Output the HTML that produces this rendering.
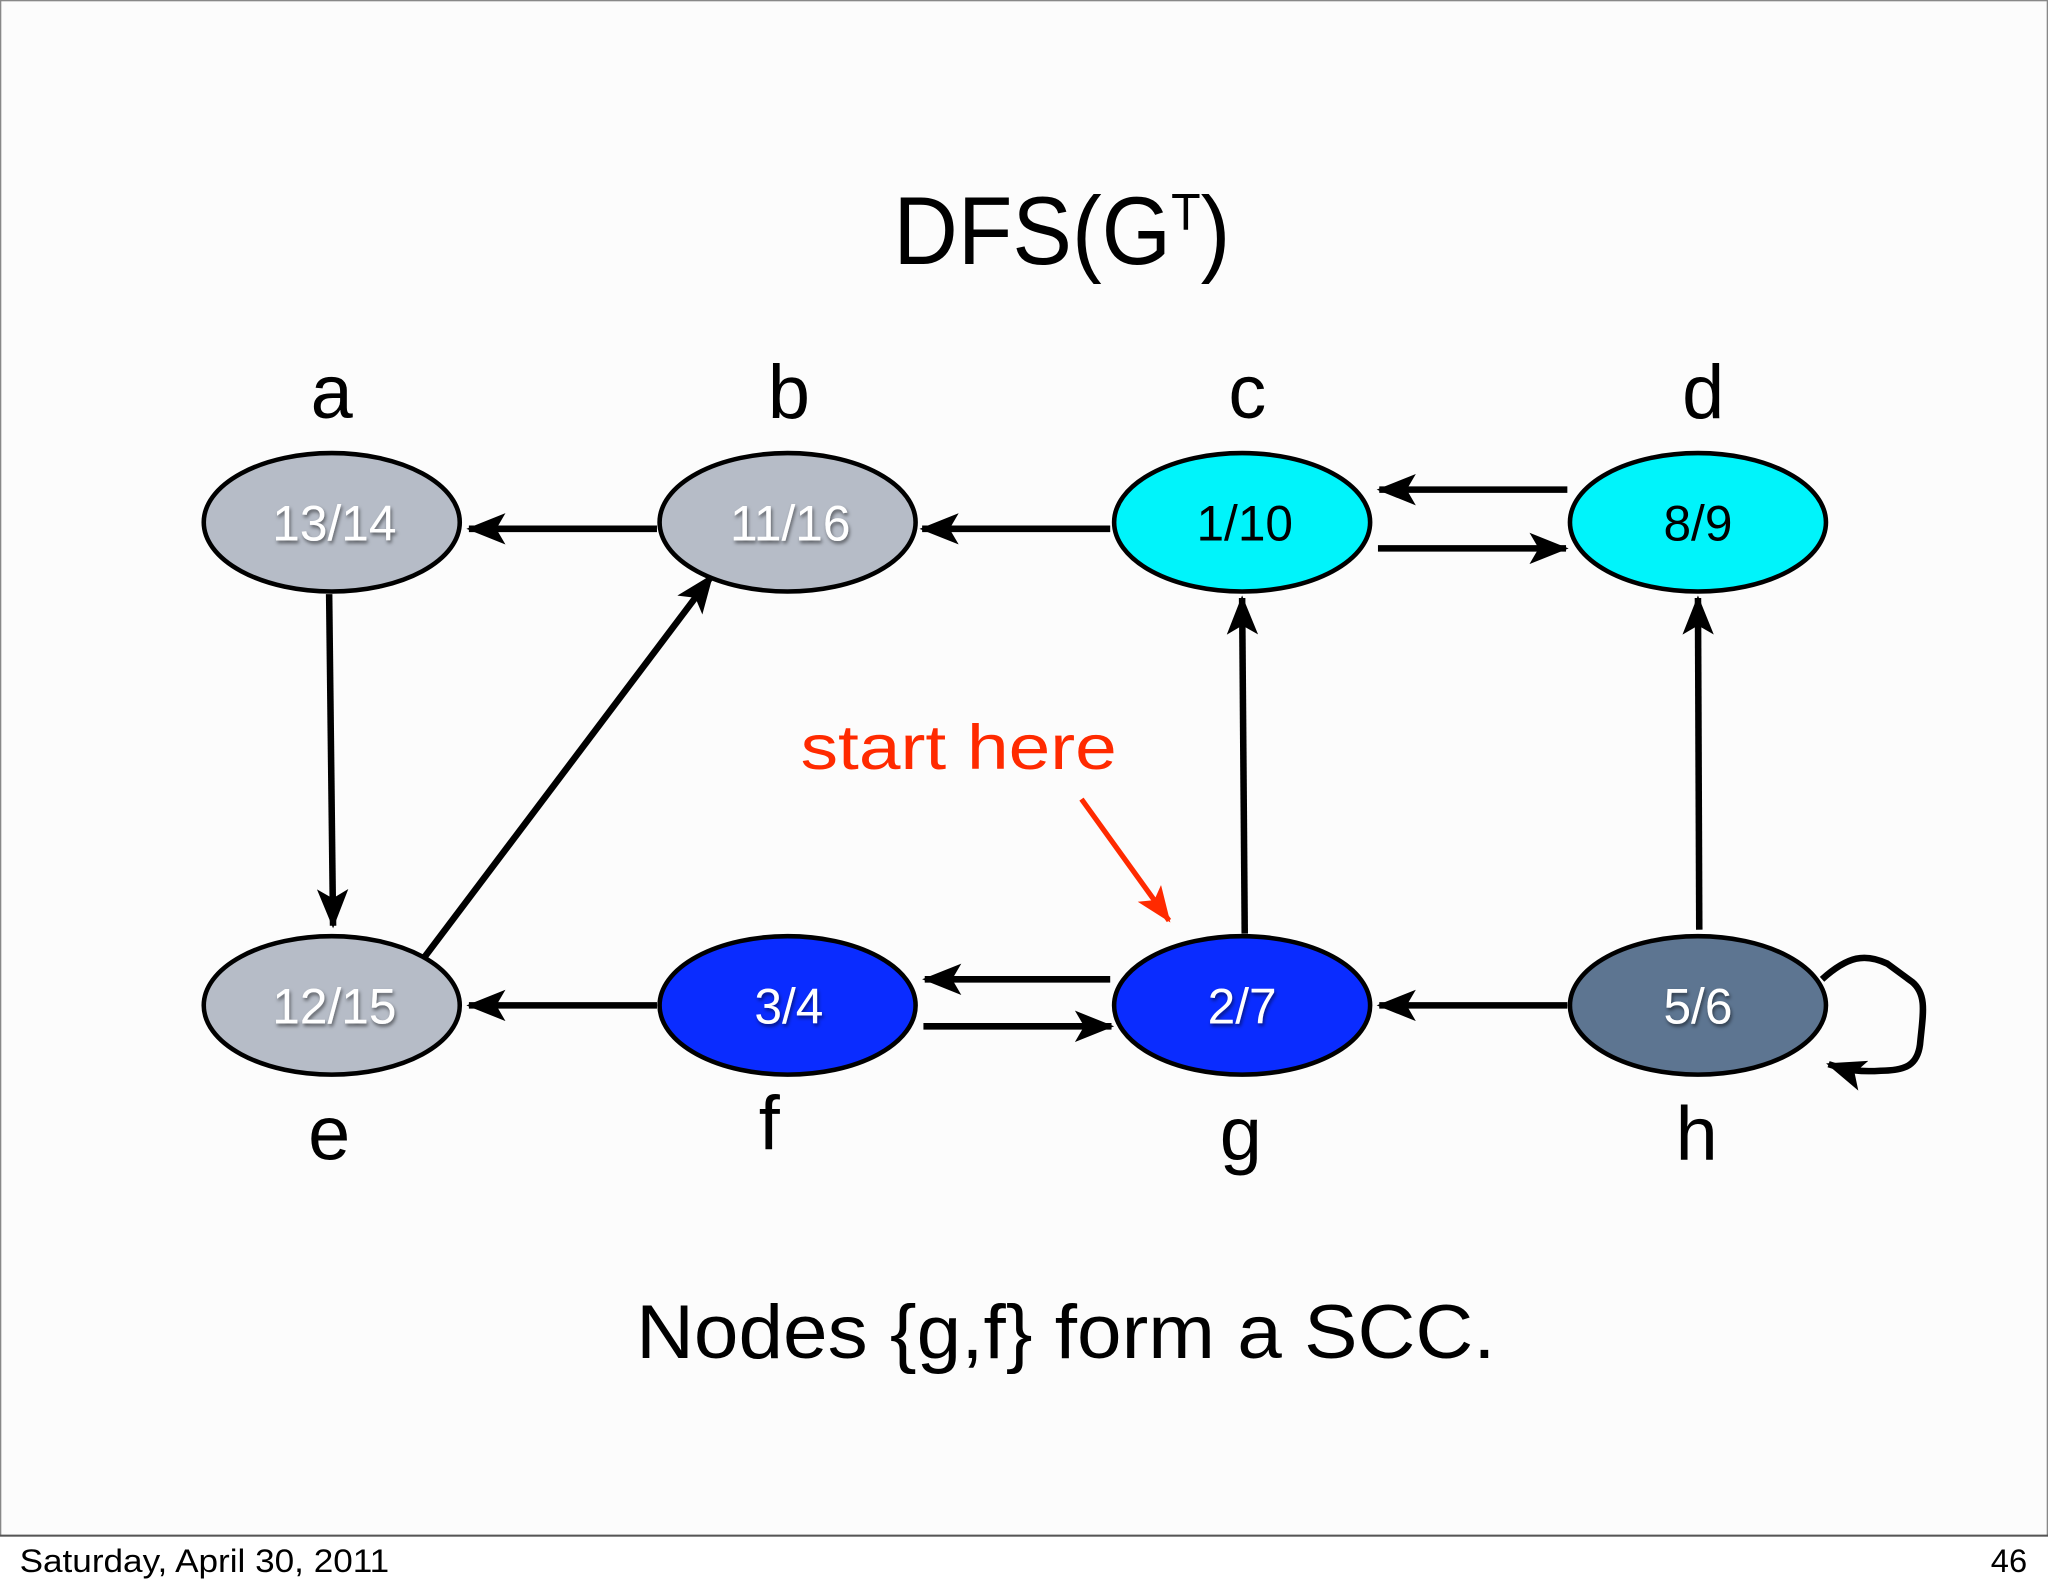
<!DOCTYPE html>
<html><head><meta charset="utf-8"><style>
html,body{margin:0;padding:0;background:#fff}
svg{display:block}
</style></head><body>
<svg width="2048" height="1593" viewBox="0 0 1568 1220" preserveAspectRatio="none" xmlns="http://www.w3.org/2000/svg">
<defs>
<marker id="ar" viewBox="0 0 30 24" refX="28" refY="12" markerWidth="30" markerHeight="24" markerUnits="userSpaceOnUse" orient="auto">
<path d="M0,0 L30,12 L0,24 L7,12 Z" fill="#000"/>
</marker>
<marker id="rr" viewBox="0 0 30 24" refX="28" refY="12" markerWidth="28" markerHeight="22" markerUnits="userSpaceOnUse" orient="auto">
<path d="M0,0 L30,12 L0,24 L7,12 Z" fill="#ff2a00"/>
</marker>
<filter id="sh" x="-20%" y="-20%" width="140%" height="140%"><feDropShadow dx="1" dy="2" stdDeviation="1.5" flood-color="#000" flood-opacity="0.5"/></filter>
</defs>
<rect x="0.5" y="0.5" width="1567" height="1176" fill="#fcfcfc" stroke="#888" stroke-width="1"/>
<line x1="0" y1="1176" x2="1568" y2="1176" stroke="#555" stroke-width="1.5"/>
<rect x="0" y="1177" width="1568" height="43" fill="#fff"/>
<text x="15" y="1204" font-family="Liberation Sans, sans-serif" font-size="25" fill="#000" textLength="283" lengthAdjust="spacingAndGlyphs">Saturday, April 30, 2011</text>
<text x="1552" y="1204" font-family="Liberation Sans, sans-serif" font-size="25" fill="#000" text-anchor="end">46</text>

<text x="684" y="202" font-family="Liberation Sans, sans-serif" font-size="74" fill="#000" textLength="258" lengthAdjust="spacingAndGlyphs">DFS(G<tspan font-size="40" dy="-26">T</tspan><tspan dy="26">)</tspan></text>

<g font-family="Liberation Sans, sans-serif" font-size="58" fill="#000" text-anchor="middle">
<text x="254" y="320">a</text><text x="604" y="320">b</text><text x="955" y="320">c</text><text x="1304" y="320">d</text>
<text x="252" y="888">e</text><text x="589" y="880">f</text><text x="950" y="888">g</text><text x="1299" y="888">h</text>
</g>

<g stroke="#000" stroke-width="5" fill="none" marker-end="url(#ar)">
<line x1="503" y1="405" x2="359" y2="405"/>
<line x1="850" y1="405" x2="706" y2="405"/>
<line x1="1200" y1="375" x2="1056" y2="375"/>
<line x1="1055" y1="420" x2="1199" y2="420"/>
<line x1="252" y1="455" x2="255" y2="709"/>
<line x1="325" y1="733" x2="545" y2="441"/>
<line x1="953" y1="715" x2="951" y2="458"/>
<line x1="1301" y1="712" x2="1300" y2="458"/>
<line x1="503" y1="770" x2="359" y2="770"/>
<line x1="850" y1="750" x2="708" y2="750"/>
<line x1="707" y1="786" x2="851" y2="786"/>
<line x1="1200" y1="770" x2="1056" y2="770"/>
<path d="M1395,750 C1415,732 1428,730 1445,738 L1464,752 C1476,762 1472,778 1470,800 C1468,815 1460,820 1440,820 C1425,821 1415,820 1400,815"/>
</g>
<line x1="828" y1="612" x2="895" y2="705" stroke="#ff2a00" stroke-width="4" marker-end="url(#rr)"/>
<text x="613" y="589" font-family="Liberation Sans, sans-serif" font-size="48" fill="#ff2a00" textLength="242" lengthAdjust="spacingAndGlyphs">start here</text>

<g stroke="#000" stroke-width="3.5">
<ellipse cx="254" cy="400" rx="98" ry="53" fill="#b6bcc7"/>
<ellipse cx="603" cy="400" rx="98" ry="53" fill="#b6bcc7"/>
<ellipse cx="951" cy="400" rx="98" ry="53" fill="#00f4fb"/>
<ellipse cx="1300" cy="400" rx="98" ry="53" fill="#00f4fb"/>
<ellipse cx="254" cy="770" rx="98" ry="53" fill="#b6bcc7"/>
<ellipse cx="603" cy="770" rx="98" ry="53" fill="#0a2cff"/>
<ellipse cx="951" cy="770" rx="98" ry="53" fill="#0a2cff"/>
<ellipse cx="1300" cy="770" rx="98" ry="53" fill="#5d7591"/>
</g>
<g font-family="Liberation Sans, sans-serif" font-size="38" text-anchor="middle">
<text x="256" y="414" fill="#fff" filter="url(#sh)">13/14</text>
<text x="605" y="414" fill="#fff" filter="url(#sh)">11/16</text>
<text x="953" y="414" fill="#000">1/10</text>
<text x="1300" y="414" fill="#000">8/9</text>
<text x="256" y="784" fill="#fff" filter="url(#sh)">12/15</text>
<text x="604" y="784" fill="#fff" filter="url(#sh)">3/4</text>
<text x="951" y="784" fill="#fff" filter="url(#sh)">2/7</text>
<text x="1300" y="784" fill="#fff" filter="url(#sh)">5/6</text>
</g>

<text x="487" y="1040" font-family="Liberation Sans, sans-serif" font-size="58" fill="#000" textLength="658" lengthAdjust="spacingAndGlyphs">Nodes {g,f} form a SCC.</text>
</svg>
</body></html>
